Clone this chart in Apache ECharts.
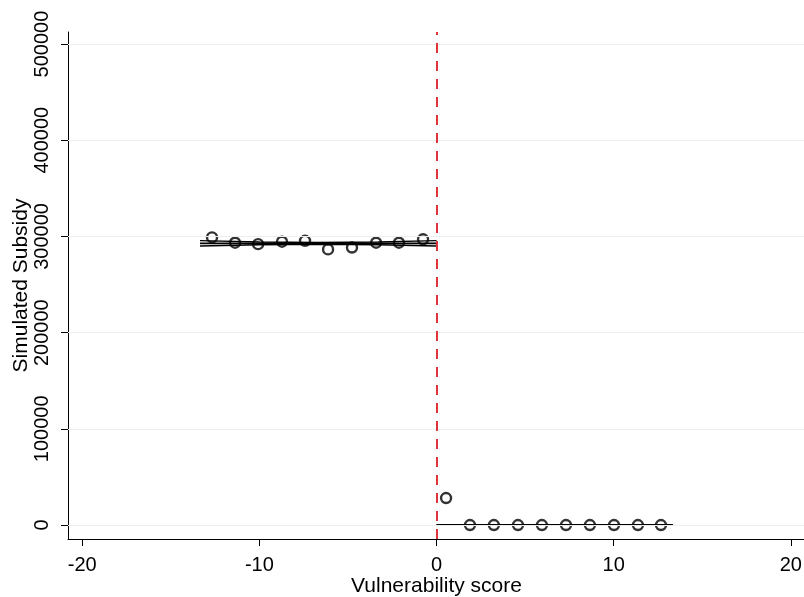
<!DOCTYPE html>
<html><head><meta charset="utf-8">
<script src="https://cdn.jsdelivr.net/npm/echarts@6/dist/echarts.min.js"></script>
<style>html,body{margin:0;padding:0;background:#fff}#c{width:804px;height:597px}</style>
</head><body><div id="c"></div>
<script>
const xTicks = [-20, -10, 0, 10, 20];
const yTicks = [0, 100000, 200000, 300000, 400000, 500000];
const leftX = [-12.67, -11.37, -10.07, -8.72, -7.42, -6.12, -4.77, -3.41, -2.12, -0.76];
const leftY = [299000, 293500, 292000, 294500, 295500, 286500, 288500, 293500, 293500, 297000];
const rightX = [0.54, 1.89, 3.24, 4.60, 5.95, 7.31, 8.66, 10.02, 11.37, 12.67];
const rightY = [28100, 0, 0, 0, 0, 0, 0, 0, 0, 0];
const leftFitX = [-13.35, -10, -6.7, -3.3, 0];
const leftFit = [292800, 292800, 292800, 292800, 292800];
const leftUpper = [295600, 294200, 293700, 294200, 295600];
const leftLower = [290000, 291400, 291900, 291400, 290000];
const rightFitX = [0, 13.35];
const rightFit = [0, 0];
const rightUpper = [400, 400];
const rightLower = [-400, -400];
const cutoff = 0;

const zip = (xs, ys) => xs.map((x, i) => [x, ys[i]]);
const font = '"Liberation Sans", Arial, sans-serif';
const lineSeries = (xs, ys, w) => ({
  type: 'line', data: zip(xs, ys), showSymbol: false, silent: true,
  lineStyle: { color: '#000', width: w }, z: 3
});

const chart = echarts.init(document.getElementById('c'), null, { renderer: 'canvas' });
chart.setOption({
  animation: false,
  backgroundColor: '#fff',
  grid: { left: 68, right: -1, top: 32, bottom: 58, containLabel: false, outerBoundsMode: 'none' },
  xAxis: {
    type: 'value', min: -20.8, max: 20.8,
    name: 'Vulnerability score', nameLocation: 'middle', nameGap: 37, nameMoveOverlap: false,
    nameTextStyle: { fontFamily: font, fontSize: 21, color: '#000' },
    axisLine: { show: true, onZero: false, lineStyle: { color: '#000', width: 1 } },
    axisTick: { show: true, length: 7, customValues: xTicks, lineStyle: { color: '#000' } },
    axisLabel: { customValues: xTicks, fontFamily: font, fontSize: 20, color: '#000', margin: 16, formatter: v => String(v) },
    splitLine: { show: false }
  },
  yAxis: {
    type: 'value', min: -14500, max: 512500,
    name: 'Simulated Subsidy', nameLocation: 'middle', nameGap: 36, nameRotate: 90, nameMoveOverlap: false,
    nameTextStyle: { fontFamily: font, fontSize: 21, color: '#000' },
    axisLine: { show: true, onZero: false, lineStyle: { color: '#000', width: 1 } },
    axisTick: { show: true, length: 7, customValues: yTicks, lineStyle: { color: '#000' } },
    axisLabel: { customValues: yTicks, rotate: 90, fontFamily: font, fontSize: 20, color: '#000', margin: 16, formatter: v => String(v) },
    splitLine: { show: false }
  },
  series: [
    {
      type: 'line', data: [], silent: true, z: 1,
      markLine: {
        silent: true, symbol: ['none', 'none'], label: { show: false },
        lineStyle: { color: '#e9eeee', width: 1.2, type: 'solid' },
        data: yTicks.map(v => ({ yAxis: v }))
      }
    },
    lineSeries(leftFitX, leftUpper, 1.4),
    lineSeries(leftFitX, leftLower, 1.4),
    lineSeries(leftFitX, leftFit, 1.8),
    lineSeries(rightFitX, rightUpper, 1.2),
    lineSeries(rightFitX, rightLower, 1.2),
    lineSeries(rightFitX, rightFit, 1.8),
    {
      type: 'scatter', data: zip(leftX, leftY), symbol: 'circle', symbolSize: 10, z: 4,
      itemStyle: { color: 'rgba(0,0,0,0)', borderColor: '#000', borderWidth: 2.4 }
    },
    {
      type: 'scatter', data: zip(rightX, rightY), symbol: 'circle', symbolSize: 10, z: 4,
      itemStyle: { color: 'rgba(0,0,0,0)', borderColor: '#000', borderWidth: 2.4 }
    },
    {
      type: 'line', data: [], silent: true, z: 5,
      markLine: {
        silent: true, symbol: ['none', 'none'], label: { show: false },
        lineStyle: { color: '#e0323a', width: 2, type: [10, 8] },
        data: [{ xAxis: cutoff }]
      }
    }
  ]
});
</script>
</body></html>
